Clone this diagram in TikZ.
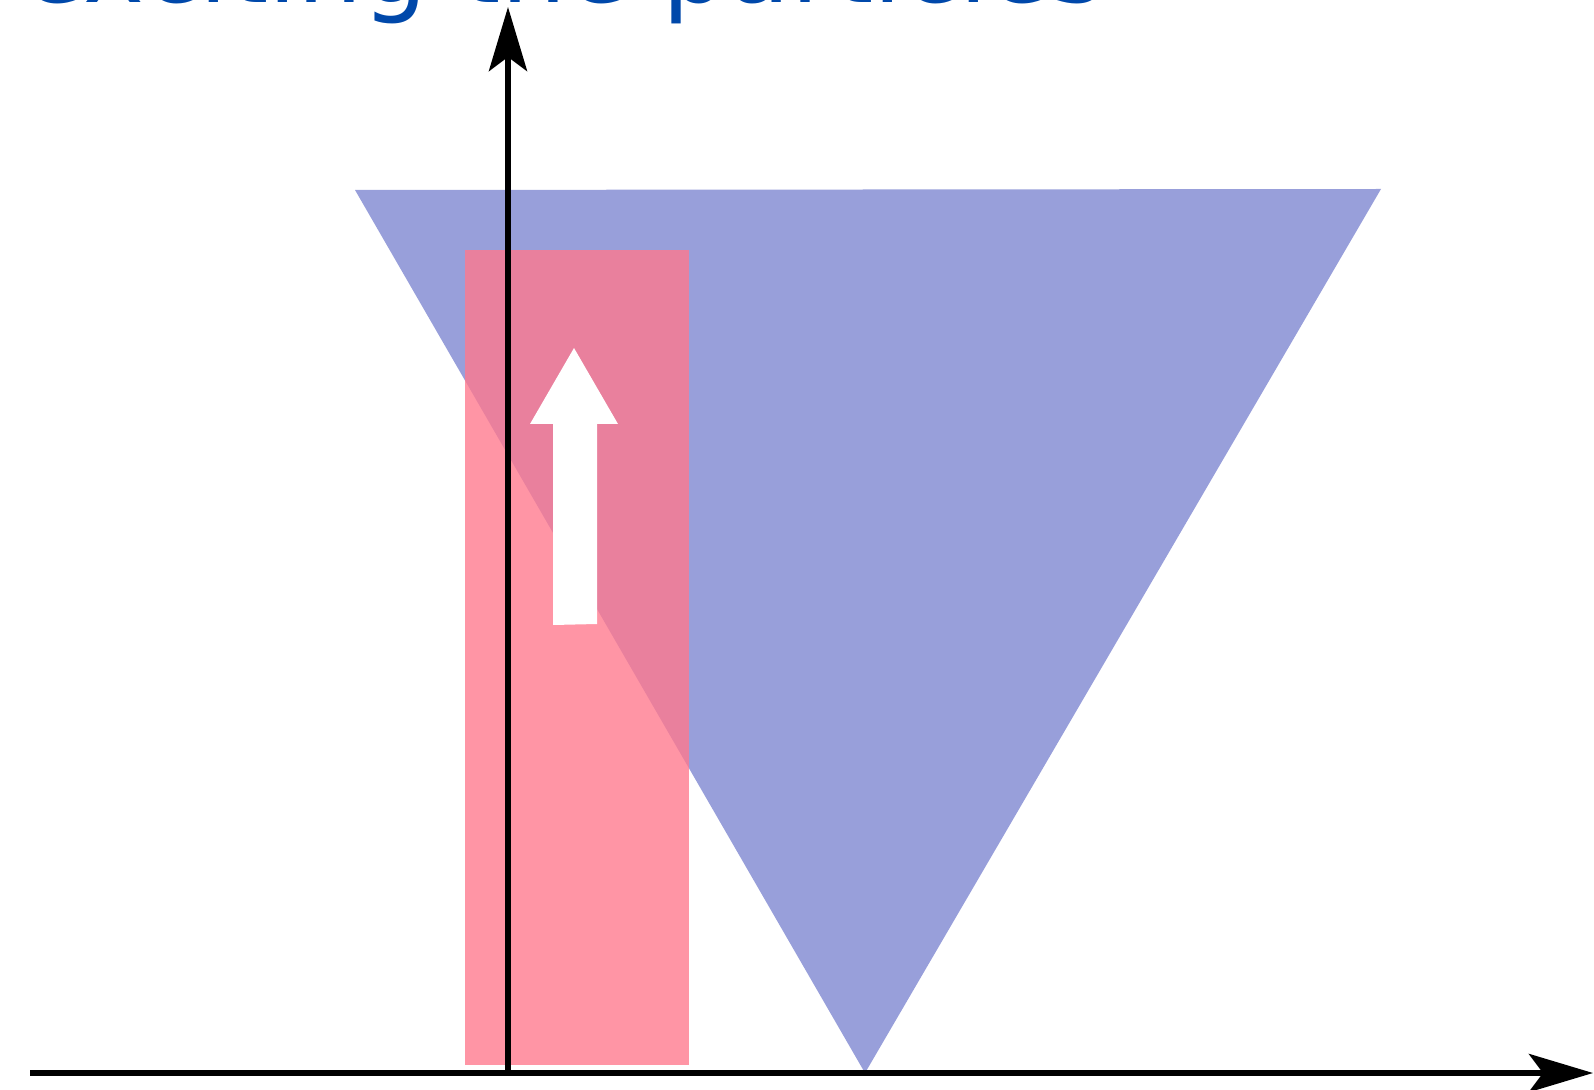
\documentclass[tikz,border=0pt]{standalone}
\usepackage{fontspec}
\setmainfont{DejaVu Sans}
\usetikzlibrary{arrows.meta}
\definecolor{tribl}{RGB}{152,159,218}
\definecolor{rectpk}{RGB}{255,120,141}
\definecolor{titlebl}{RGB}{0,72,170}
\tikzset{
  axisline/.style={line width=3.2pt},
  axis/.style={axisline, -{Stealth[length=32pt,width=19pt,inset=7pt]}},
  funnel/.style={fill=tribl, draw=none},
  band/.style={fill=rectpk, fill opacity=0.79, draw=none},
  uparrow/.style={fill=white, draw=none},
  titletext/.style={font=\fontsize{51.5pt}{60pt}\selectfont, text=titlebl, inner sep=0pt, anchor=base west}
}
\begin{document}
\begin{tikzpicture}[x=0.5pt,y=-0.5pt]
\useasboundingbox (0,0) rectangle (1594,1090);
\node[titletext] (title) at (22,3) {exciting the particles};
% funnel (triangle)
\fill[funnel] (355,190) -- (1381,189) -- (865,1073) -- cycle;
% excitation band
\fill[band] (465,250) rectangle (689,1065);
% axes
\coordinate (origin) at (508,1073);
\coordinate (ytip) at (508,7);
\coordinate (xstart) at (30,1073);
\coordinate (xtip) at (1593,1073);
\draw[axis] (origin) -- (ytip);
\draw[axisline] (xstart) -- (origin);
\draw[axis] (origin) -- (xtip);
% white up arrow
\fill[uparrow] (553,625) -- (553,424) -- (530,424) -- (574,348) -- (618,424) -- (597,424) -- (597,624) -- cycle;
\end{tikzpicture}
\end{document}
